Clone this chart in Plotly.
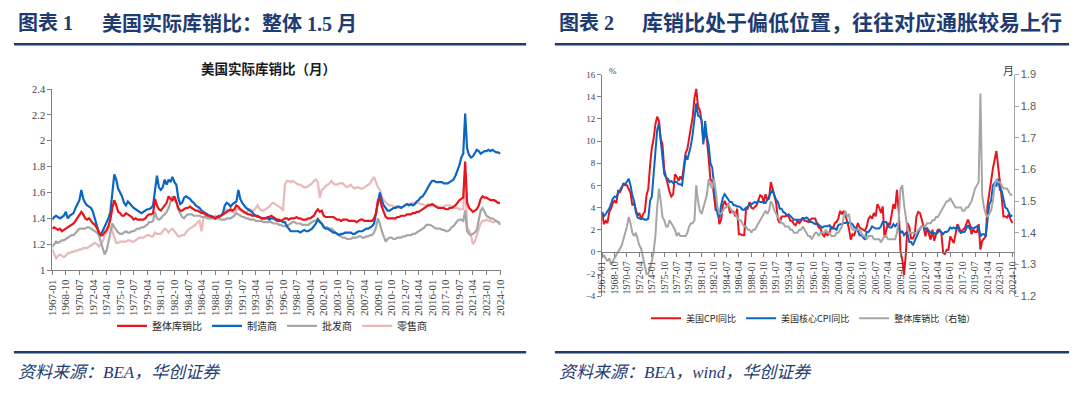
import plotly.graph_objects as go
import pandas as pd

# ---------------- data (quarterly readings: Jan/Apr/Jul/Oct, 1967-01 .. 2024-10) -------------
months = pd.date_range("1967-01-01", "2024-10-01", freq="QS-JAN")

total_ratio = [
    1.32, 1.33, 1.32, 1.31,  # 1967
    1.32, 1.30, 1.31, 1.32,  # 1968
    1.33, 1.34, 1.35, 1.36,  # 1969
    1.38, 1.40, 1.42, 1.45,  # 1970
    1.43, 1.40, 1.39, 1.40,  # 1971
    1.38, 1.36, 1.35, 1.32,  # 1972
    1.29, 1.27, 1.27, 1.29,  # 1973
    1.31, 1.34, 1.39, 1.48,  # 1974
    1.54, 1.50, 1.45, 1.44,  # 1975
    1.42, 1.42, 1.44, 1.43,  # 1976
    1.42, 1.41, 1.39, 1.40,  # 1977
    1.39, 1.39, 1.39, 1.39,  # 1978
    1.40, 1.42, 1.43, 1.43,  # 1979
    1.44, 1.55, 1.50, 1.47,  # 1980
    1.46, 1.48, 1.50, 1.52,  # 1981
    1.57, 1.55, 1.54, 1.57,  # 1982
    1.53, 1.48, 1.46, 1.46,  # 1983
    1.47, 1.48, 1.48, 1.49,  # 1984
    1.48, 1.47, 1.46, 1.46,  # 1985
    1.45, 1.44, 1.44, 1.43,  # 1986
    1.42, 1.42, 1.41, 1.41,  # 1987
    1.40, 1.41, 1.41, 1.42,  # 1988
    1.43, 1.44, 1.45, 1.46,  # 1989
    1.47, 1.46, 1.47, 1.50,  # 1990
    1.49, 1.47, 1.46, 1.45,  # 1991
    1.44, 1.43, 1.43, 1.42,  # 1992
    1.42, 1.42, 1.41, 1.41,  # 1993
    1.40, 1.40, 1.40, 1.41,  # 1994
    1.41, 1.42, 1.41, 1.40,  # 1995
    1.39, 1.39, 1.38, 1.39,  # 1996
    1.40, 1.40, 1.39, 1.40,  # 1997
    1.40, 1.40, 1.41, 1.40,  # 1998
    1.40, 1.39, 1.39, 1.39,  # 1999
    1.40, 1.40, 1.41, 1.42,  # 2000
    1.45, 1.47, 1.45, 1.46,  # 2001
    1.42, 1.41, 1.41, 1.41,  # 2002
    1.41, 1.41, 1.40, 1.39,  # 2003
    1.39, 1.38, 1.39, 1.39,  # 2004
    1.39, 1.38, 1.38, 1.38,  # 2005
    1.38, 1.37, 1.38, 1.39,  # 2006
    1.39, 1.38, 1.38, 1.38,  # 2007
    1.38, 1.38, 1.40, 1.44,  # 2008
    1.54, 1.55, 1.49, 1.45,  # 2009
    1.41, 1.40, 1.40, 1.40,  # 2010
    1.40, 1.40, 1.41, 1.41,  # 2011
    1.42, 1.42, 1.42, 1.43,  # 2012
    1.43, 1.43, 1.44, 1.44,  # 2013
    1.45, 1.45, 1.46, 1.47,  # 2014
    1.48, 1.49, 1.50, 1.50,  # 2015
    1.51, 1.50, 1.49, 1.48,  # 2016
    1.48, 1.48, 1.48, 1.47,  # 2017
    1.47, 1.48, 1.48, 1.49,  # 2018
    1.50, 1.52, 1.54, 1.55,  # 2019
    1.56, 1.84, 1.52, 1.48,  # 2020
    1.46, 1.45, 1.46, 1.47,  # 2021
    1.50, 1.55, 1.57, 1.56,  # 2022
    1.56, 1.55, 1.54, 1.54,  # 2023
    1.54, 1.53, 1.52, 1.52,  # 2024
]

manufacturing = [
    1.39, 1.41, 1.42, 1.41,  # 1967
    1.40, 1.41, 1.42, 1.45,  # 1968
    1.40, 1.42, 1.43, 1.44,  # 1969
    1.48, 1.51, 1.54, 1.62,  # 1970
    1.55, 1.52, 1.50, 1.49,  # 1971
    1.48, 1.45, 1.40, 1.35,  # 1972
    1.29, 1.27, 1.30, 1.34,  # 1973
    1.37, 1.40, 1.45, 1.58,  # 1974
    1.74, 1.70, 1.63, 1.60,  # 1975
    1.57, 1.52, 1.50, 1.53,  # 1976
    1.51, 1.50, 1.48, 1.47,  # 1977
    1.46, 1.45, 1.44, 1.45,  # 1978
    1.46, 1.47, 1.47, 1.48,  # 1979
    1.50, 1.62, 1.73, 1.64,  # 1980
    1.62, 1.64, 1.70, 1.66,  # 1981
    1.70, 1.68, 1.72, 1.68,  # 1982
    1.66, 1.56, 1.51, 1.52,  # 1983
    1.56, 1.57, 1.56, 1.55,  # 1984
    1.53, 1.52, 1.50, 1.49,  # 1985
    1.48, 1.46, 1.45, 1.44,  # 1986
    1.43, 1.42, 1.42, 1.41,  # 1987
    1.40, 1.41, 1.42, 1.42,  # 1988
    1.44, 1.50, 1.52, 1.51,  # 1989
    1.49, 1.51, 1.52, 1.53,  # 1990
    1.62, 1.55, 1.52, 1.50,  # 1991
    1.48, 1.47, 1.46, 1.45,  # 1992
    1.43, 1.42, 1.42, 1.41,  # 1993
    1.40, 1.40, 1.40, 1.40,  # 1994
    1.39, 1.40, 1.40, 1.39,  # 1995
    1.38, 1.38, 1.38, 1.37,  # 1996
    1.37, 1.34, 1.32, 1.30,  # 1997
    1.30, 1.30, 1.30, 1.30,  # 1998
    1.29, 1.30, 1.31, 1.30,  # 1999
    1.30, 1.31, 1.32, 1.34,  # 2000
    1.36, 1.39, 1.37, 1.36,  # 2001
    1.33, 1.32, 1.32, 1.31,  # 2002
    1.30, 1.29, 1.29, 1.28,  # 2003
    1.27, 1.28, 1.28, 1.29,  # 2004
    1.29, 1.29, 1.29, 1.28,  # 2005
    1.28, 1.29, 1.30, 1.30,  # 2006
    1.30, 1.31, 1.32, 1.32,  # 2007
    1.33, 1.34, 1.36, 1.44,  # 2008
    1.55, 1.60, 1.54, 1.50,  # 2009
    1.48, 1.46, 1.46, 1.47,  # 2010
    1.48, 1.48, 1.49, 1.49,  # 2011
    1.48, 1.49, 1.50, 1.51,  # 2012
    1.50, 1.51, 1.50, 1.51,  # 2013
    1.53, 1.54, 1.56, 1.57,  # 2014
    1.59, 1.62, 1.65, 1.67,  # 2015
    1.69, 1.69, 1.68, 1.68,  # 2016
    1.68, 1.68, 1.67, 1.67,  # 2017
    1.67, 1.68, 1.69, 1.70,  # 2018
    1.73, 1.77, 1.81, 1.87,  # 2019
    1.90, 2.21, 1.94, 1.89,  # 2020
    1.87, 1.88, 1.91, 1.93,  # 2021
    1.92, 1.90, 1.91, 1.92,  # 2022
    1.92, 1.93, 1.92, 1.93,  # 2023
    1.92, 1.91, 1.91, 1.90,  # 2024
]

wholesale = [
    1.18, 1.20, 1.22, 1.21,  # 1967
    1.22, 1.23, 1.23, 1.24,  # 1968
    1.25, 1.26, 1.27, 1.27,  # 1969
    1.29, 1.30, 1.32, 1.32,  # 1970
    1.32, 1.32, 1.33, 1.33,  # 1971
    1.32, 1.31, 1.30, 1.29,  # 1972
    1.27, 1.22, 1.17, 1.12,  # 1973
    1.15, 1.22, 1.30, 1.36,  # 1974
    1.33, 1.31, 1.29, 1.28,  # 1975
    1.28, 1.29, 1.30, 1.29,  # 1976
    1.29, 1.30, 1.30, 1.31,  # 1977
    1.32, 1.32, 1.33, 1.33,  # 1978
    1.34, 1.35, 1.37, 1.37,  # 1979
    1.38, 1.45, 1.40, 1.39,  # 1980
    1.40, 1.42, 1.43, 1.45,  # 1981
    1.48, 1.52, 1.57, 1.54,  # 1982
    1.52, 1.47, 1.44, 1.41,  # 1983
    1.40, 1.42, 1.43, 1.43,  # 1984
    1.43, 1.42, 1.42, 1.42,  # 1985
    1.42, 1.41, 1.41, 1.41,  # 1986
    1.40, 1.40, 1.40, 1.40,  # 1987
    1.40, 1.40, 1.40, 1.39,  # 1988
    1.39, 1.39, 1.40, 1.40,  # 1989
    1.40, 1.41, 1.42, 1.44,  # 1990
    1.43, 1.42, 1.41, 1.41,  # 1991
    1.40, 1.40, 1.39, 1.39,  # 1992
    1.39, 1.38, 1.38, 1.38,  # 1993
    1.38, 1.37, 1.37, 1.37,  # 1994
    1.37, 1.37, 1.36, 1.36,  # 1995
    1.36, 1.35, 1.35, 1.34,  # 1996
    1.34, 1.34, 1.35, 1.36,  # 1997
    1.37, 1.37, 1.36, 1.36,  # 1998
    1.36, 1.35, 1.35, 1.35,  # 1999
    1.35, 1.36, 1.37, 1.38,  # 2000
    1.38, 1.40, 1.38, 1.36,  # 2001
    1.34, 1.33, 1.33, 1.32,  # 2002
    1.32, 1.31, 1.29, 1.28,  # 2003
    1.27, 1.26, 1.25, 1.25,  # 2004
    1.24, 1.24, 1.24, 1.25,  # 2005
    1.25, 1.25, 1.26, 1.26,  # 2006
    1.25, 1.25, 1.26, 1.26,  # 2007
    1.27, 1.27, 1.29, 1.33,  # 2008
    1.40, 1.36, 1.30, 1.26,  # 2009
    1.22, 1.24, 1.25, 1.25,  # 2010
    1.24, 1.24, 1.25, 1.25,  # 2011
    1.25, 1.26, 1.26, 1.27,  # 2012
    1.27, 1.27, 1.28, 1.28,  # 2013
    1.29, 1.30, 1.31, 1.32,  # 2014
    1.33, 1.35, 1.35, 1.35,  # 2015
    1.34, 1.33, 1.32, 1.32,  # 2016
    1.32, 1.31, 1.31, 1.30,  # 2017
    1.30, 1.31, 1.33, 1.34,  # 2018
    1.36, 1.38, 1.39, 1.39,  # 2019
    1.38, 1.46, 1.30, 1.28,  # 2020
    1.27, 1.28, 1.29, 1.31,  # 2021
    1.38, 1.46, 1.48, 1.45,  # 2022
    1.42, 1.41, 1.40, 1.40,  # 2023
    1.39, 1.38, 1.37, 1.35,  # 2024
]

retail = [
    1.16, 1.12, 1.09, 1.11,  # 1967
    1.12, 1.11, 1.10, 1.11,  # 1968
    1.13, 1.13, 1.14, 1.14,  # 1969
    1.15, 1.15, 1.16, 1.16,  # 1970
    1.17, 1.17, 1.17, 1.18,  # 1971
    1.19, 1.20, 1.21, 1.20,  # 1972
    1.18, 1.20, 1.22, 1.26,  # 1973
    1.29, 1.32, 1.34, 1.30,  # 1974
    1.25, 1.21, 1.21, 1.22,  # 1975
    1.22, 1.22, 1.22, 1.23,  # 1976
    1.23, 1.22, 1.22, 1.23,  # 1977
    1.24, 1.25, 1.25, 1.25,  # 1978
    1.26, 1.27, 1.27, 1.26,  # 1979
    1.26, 1.29, 1.28, 1.28,  # 1980
    1.28, 1.30, 1.32, 1.31,  # 1981
    1.29, 1.31, 1.32, 1.30,  # 1982
    1.28, 1.26, 1.26, 1.27,  # 1983
    1.27, 1.29, 1.31, 1.32,  # 1984
    1.33, 1.34, 1.35, 1.37,  # 1985
    1.38, 1.30, 1.40, 1.42,  # 1986
    1.43, 1.41, 1.40, 1.41,  # 1987
    1.42, 1.41, 1.41, 1.42,  # 1988
    1.43, 1.45, 1.47, 1.46,  # 1989
    1.46, 1.45, 1.44, 1.46,  # 1990
    1.48, 1.46, 1.45, 1.44,  # 1991
    1.44, 1.46, 1.47, 1.46,  # 1992
    1.46, 1.48, 1.50, 1.47,  # 1993
    1.46, 1.46, 1.47, 1.48,  # 1994
    1.49, 1.51, 1.52, 1.51,  # 1995
    1.50, 1.49, 1.48, 1.46,  # 1996
    1.66, 1.69, 1.69, 1.68,  # 1997
    1.69, 1.68, 1.67, 1.66,  # 1998
    1.66, 1.65, 1.64, 1.64,  # 1999
    1.65, 1.66, 1.67, 1.69,  # 2000
    1.70, 1.68, 1.56, 1.62,  # 2001
    1.63, 1.65, 1.66, 1.67,  # 2002
    1.69, 1.67, 1.66, 1.66,  # 2003
    1.67, 1.67, 1.67, 1.65,  # 2004
    1.64, 1.65, 1.66, 1.64,  # 2005
    1.63, 1.64, 1.64, 1.63,  # 2006
    1.63, 1.64, 1.65, 1.66,  # 2007
    1.67, 1.70, 1.72, 1.68,  # 2008
    1.64, 1.62, 1.57, 1.54,  # 2009
    1.52, 1.51, 1.50, 1.50,  # 2010
    1.49, 1.49, 1.48, 1.48,  # 2011
    1.48, 1.49, 1.50, 1.51,  # 2012
    1.51, 1.51, 1.52, 1.52,  # 2013
    1.52, 1.52, 1.51, 1.51,  # 2014
    1.50, 1.50, 1.51, 1.51,  # 2015
    1.50, 1.50, 1.49, 1.49,  # 2016
    1.49, 1.49, 1.49, 1.50,  # 2017
    1.50, 1.50, 1.49, 1.48,  # 2018
    1.48, 1.48, 1.47, 1.47,  # 2019
    1.47, 1.72, 1.33, 1.31,  # 2020
    1.27, 1.20, 1.22, 1.27,  # 2021
    1.32, 1.36, 1.38, 1.38,  # 2022
    1.39, 1.38, 1.38, 1.37,  # 2023
    1.37, 1.38, 1.37, 1.37,  # 2024
]

cpi_yoy = [
    3.5, 2.5, 2.8, 2.6,     # 1967
    3.6, 3.9, 4.4, 4.6,     # 1968
    4.4, 5.5, 5.4, 5.7,     # 1969
    6.2, 6.0, 6.0, 5.6,     # 1970
    5.3, 4.2, 4.4, 3.8,     # 1971
    3.3, 3.5, 2.9, 3.4,     # 1972
    3.6, 5.1, 5.7, 7.8,     # 1973
    9.4, 10.2, 11.5, 12.2,  # 1974
    11.8, 10.2, 9.7, 7.4,   # 1975
    6.7, 6.1, 5.4, 5.0,     # 1976
    5.2, 7.0, 6.8, 6.4,     # 1977
    6.8, 6.5, 7.7, 8.9,     # 1978
    9.3, 10.4, 11.3, 12.2,  # 1979
    13.9, 14.7, 13.1, 12.8, # 1980
    11.8, 10.0, 10.8, 10.1, # 1981
    8.4, 6.5, 6.4, 5.1,     # 1982
    3.7, 3.9, 2.5, 2.9,     # 1983
    4.2, 4.6, 4.2, 4.3,     # 1984
    3.5, 3.7, 3.6, 3.2,     # 1985
    3.9, 1.6, 1.6, 1.5,     # 1986
    1.5, 3.8, 3.9, 4.5,     # 1987
    4.0, 3.9, 4.1, 4.2,     # 1988
    4.7, 5.1, 5.0, 4.5,     # 1989
    5.2, 4.7, 4.8, 6.3,     # 1990
    5.7, 4.9, 4.4, 2.9,     # 1991
    2.6, 3.2, 3.2, 3.2,     # 1992
    3.3, 3.2, 2.8, 2.8,     # 1993
    2.5, 2.4, 2.8, 2.6,     # 1994
    2.8, 3.1, 2.8, 2.8,     # 1995
    2.7, 2.9, 3.0, 3.0,     # 1996
    3.0, 2.5, 2.2, 2.1,     # 1997
    1.6, 1.4, 1.7, 1.5,     # 1998
    1.7, 2.3, 2.1, 2.6,     # 1999
    2.7, 3.0, 3.7, 3.4,     # 2000
    3.7, 3.3, 2.7, 2.1,     # 2001
    1.1, 1.6, 1.5, 2.0,     # 2002
    2.6, 2.2, 2.1, 2.0,     # 2003
    1.9, 2.3, 3.0, 3.2,     # 2004
    3.0, 3.5, 3.2, 4.3,     # 2005
    4.0, 3.5, 4.1, 1.3,     # 2006
    2.1, 2.6, 2.4, 3.5,     # 2007
    4.3, 3.9, 5.6, 3.7,     # 2008
    0.0, -0.7, -2.1, -0.2,  # 2009
    2.6, 2.2, 1.2, 1.2,     # 2010
    1.6, 3.2, 3.6, 3.5,     # 2011
    2.9, 2.3, 1.4, 2.2,     # 2012
    1.6, 1.1, 2.0, 1.0,     # 2013
    1.6, 2.0, 2.0, 1.7,     # 2014
    -0.1, -0.2, 0.2, 0.2,   # 2015
    1.4, 1.1, 0.8, 1.6,     # 2016
    2.5, 2.2, 1.7, 2.0,     # 2017
    2.1, 2.5, 2.9, 2.5,     # 2018
    1.6, 2.0, 1.8, 1.8,     # 2019
    2.5, 0.2, 1.0, 1.2,     # 2020
    1.4, 4.2, 5.4, 6.2,     # 2021
    7.5, 8.3, 9.1, 7.7,     # 2022
    6.4, 4.9, 3.2, 3.2,     # 2023
    3.1, 3.4, 2.9, 2.6,     # 2024
]

core_cpi_yoy = [
    3.6, 3.2, 3.4, 3.6,     # 1967
    3.9, 4.3, 4.8, 5.0,     # 1968
    4.9, 5.3, 5.6, 5.9,     # 1969
    6.1, 6.1, 6.3, 6.6,     # 1970
    6.0, 5.1, 4.6, 3.6,     # 1971
    3.1, 3.0, 3.0, 3.0,     # 1972
    2.9, 2.9, 3.0, 4.6,     # 1973
    5.0, 7.3, 9.5, 11.0,    # 1974
    11.6, 10.1, 8.5, 7.0,   # 1975
    6.7, 6.6, 6.3, 6.4,     # 1976
    6.2, 6.3, 6.3, 6.1,     # 1977
    6.1, 6.0, 7.3, 8.7,     # 1978
    8.3, 8.9, 9.6, 10.6,    # 1979
    11.8, 13.4, 12.3, 12.2, # 1980
    11.9, 9.7, 11.8, 10.4,  # 1981
    9.6, 8.0, 7.6, 5.9,     # 1982
    4.7, 3.4, 3.1, 4.2,     # 1983
    4.9, 5.2, 5.0, 4.8,     # 1984
    4.5, 4.5, 4.2, 4.2,     # 1985
    4.1, 4.1, 4.0, 3.8,     # 1986
    3.8, 4.0, 4.0, 4.3,     # 1987
    4.3, 4.4, 4.5, 4.4,     # 1988
    4.6, 4.5, 4.5, 4.4,     # 1989
    4.4, 4.7, 5.0, 5.3,     # 1990
    5.6, 5.1, 4.7, 4.5,     # 1991
    3.9, 3.9, 3.6, 3.5,     # 1992
    3.3, 3.4, 3.2, 3.1,     # 1993
    2.9, 2.9, 2.9, 2.9,     # 1994
    2.9, 3.0, 3.0, 3.1,     # 1995
    3.0, 2.7, 2.7, 2.6,     # 1996
    2.5, 2.6, 2.4, 2.3,     # 1997
    2.2, 2.3, 2.3, 2.3,     # 1998
    2.4, 2.1, 2.1, 2.1,     # 1999
    2.0, 2.4, 2.5, 2.5,     # 2000
    2.6, 2.6, 2.7, 2.6,     # 2001
    2.6, 2.5, 2.2, 2.2,     # 2002
    1.9, 1.5, 1.5, 1.3,     # 2003
    1.1, 1.8, 1.8, 2.0,     # 2004
    2.3, 2.2, 2.1, 2.1,     # 2005
    2.1, 2.3, 2.7, 2.7,     # 2006
    2.7, 2.3, 2.2, 2.2,     # 2007
    2.5, 2.3, 2.5, 2.2,     # 2008
    1.7, 1.9, 1.5, 1.7,     # 2009
    1.6, 0.9, 0.9, 0.6,     # 2010
    1.0, 1.3, 1.8, 2.1,     # 2011
    2.3, 2.3, 2.1, 2.0,     # 2012
    1.9, 1.7, 1.7, 1.7,     # 2013
    1.6, 1.8, 1.9, 1.8,     # 2014
    1.6, 1.8, 1.8, 1.9,     # 2015
    2.2, 2.1, 2.2, 2.1,     # 2016
    2.3, 1.9, 1.7, 1.8,     # 2017
    1.8, 2.1, 2.4, 2.1,     # 2018
    2.2, 2.1, 2.2, 2.3,     # 2019
    2.3, 1.4, 1.6, 1.6,     # 2020
    1.4, 3.0, 4.3, 4.6,     # 2021
    6.0, 6.2, 5.9, 6.6,     # 2022
    5.6, 5.5, 4.7, 4.0,     # 2023
    3.9, 3.6, 3.2, 3.3,     # 2024
]

tick_labels = [
    "1967-01", "1968-10", "1970-07", "1972-04", "1974-01", "1975-10", "1977-07",
    "1979-04", "1981-01", "1982-10", "1984-07", "1986-04", "1988-01", "1989-10",
    "1991-07", "1993-04", "1995-01", "1996-10", "1998-07", "2000-04", "2002-01",
    "2003-10", "2005-07", "2007-04", "2009-01", "2010-10", "2012-07", "2014-04",
    "2016-01", "2017-10", "2019-07", "2021-04", "2023-01", "2024-10",
]
tick_vals = [t + "-01" for t in tick_labels]

left_names = ["整体库销比", "制造商", "批发商", "零售商"]
right_names = ["美国CPI同比", "美国核心CPI同比", "整体库销比（右轴）"]

# ---------------- styling ----------------
W, H = 1080, 394
RED, BLUE, GRAY, PINK = "#E8141B", "#0A66C2", "#A6A6A6", "#E8B9B8"
NAVY = "#1E3C72"
CJK = "Noto Sans CJK SC"
SERIF = "Liberation Serif, Noto Sans CJK SC"


def fx(p):
    return p / W


def fy(p):
    return 1 - p / H


fig = go.Figure()

# left chart traces (drawn back-to-front)
left_series = [(retail, PINK, 3, left_names[3]), (wholesale, GRAY, 2, left_names[2]),
               (manufacturing, BLUE, 1, left_names[1]), (total_ratio, RED, 0, left_names[0])]
for vals, col, rank, name in left_series:
    fig.add_trace(go.Scatter(x=months, y=vals, mode="lines", name=name,
                             line=dict(color=col, width=2.2), legendrank=rank + 1,
                             xaxis="x", yaxis="y", legend="legend"))

# right chart traces
fig.add_trace(go.Scatter(x=months, y=cpi_yoy, mode="lines", name=right_names[0],
                         line=dict(color=RED, width=2.0), xaxis="x2", yaxis="y2",
                         legend="legend2"))
fig.add_trace(go.Scatter(x=months, y=core_cpi_yoy, mode="lines", name=right_names[1],
                         line=dict(color=BLUE, width=2.0), xaxis="x2", yaxis="y2",
                         legend="legend2"))
fig.add_trace(go.Scatter(x=months, y=total_ratio, mode="lines", name=right_names[2],
                         line=dict(color=GRAY, width=2.0), xaxis="x2", yaxis="y3",
                         legend="legend2"))

axis_common = dict(showgrid=False, zeroline=False, ticks="outside", ticklen=4,
                   tickcolor="#7F7F7F", linecolor="#7F7F7F", linewidth=1, showline=True)

fig.update_layout(
    width=W, height=H, autosize=False,
    margin=dict(l=0, r=0, t=0, b=0),
    paper_bgcolor="white", plot_bgcolor="rgba(0,0,0,0)",
    xaxis=dict(domain=[fx(46.7), fx(500)], anchor="y", type="date",
               range=["1967-01-01", "2024-12-01"], tickvals=tick_vals, ticktext=tick_labels,
               tickangle=-90, tickfont=dict(family=SERIF, size=11, color="#404040"),
               **axis_common),
    yaxis=dict(domain=[fy(272.3), fy(85.7)], anchor="x", range=[1, 2.4], dtick=0.2,
               tick0=1, tickfont=dict(family=SERIF, size=10.5, color="#404040"),
               **axis_common),
    xaxis2=dict(domain=[fx(601.7), fx(1017)], anchor="free", position=fy(254),
                type="date", range=["1967-01-01", "2024-12-01"], tickvals=tick_vals,
                ticktext=tick_labels, tickangle=-90,
                tickfont=dict(family=SERIF, size=10, color="#404040"), **axis_common),
    yaxis2=dict(domain=[fy(299.3), fy(70.7)], anchor="x2", range=[-4, 16], dtick=2,
                tick0=0, tickfont=dict(family=SERIF, size=9, color="#404040"),
                **axis_common),
    yaxis3=dict(overlaying="y2", anchor="x2", side="right", range=[1.2, 1.9], dtick=0.1,
                tick0=1.2, tickformat=".1f",
                tickfont=dict(family="Liberation Sans", size=11, color="#595959"),
                showgrid=False, zeroline=False, ticks="outside", ticklen=4,
                tickcolor="#A6A6A6", linecolor="#A6A6A6", linewidth=1, showline=True),
    legend=dict(orientation="h", x=fx(107), xanchor="left", y=fy(330), yanchor="middle",
                font=dict(family=CJK, size=10, color="#262626"), bgcolor="rgba(0,0,0,0)",
                itemwidth=30),
    legend2=dict(orientation="h", x=fx(646), xanchor="left", y=fy(322), yanchor="middle",
                 font=dict(family=CJK, size=9, color="#262626"), bgcolor="rgba(0,0,0,0)",
                 itemwidth=30),
    showlegend=True,
)

# header / footer lines
for x0, x1 in [(8, 525), (554, 1073)]:
    fig.add_shape(type="line", xref="paper", yref="paper", x0=fx(x0), x1=fx(x1),
                  y0=fy(39.5), y1=fy(39.5), line=dict(color=NAVY, width=2.5))
    fig.add_shape(type="line", xref="paper", yref="paper", x0=fx(x0), x1=fx(x1),
                  y0=fy(357), y1=fy(357), line=dict(color=NAVY, width=2.5))

texts = [
    (10, 18, "<b>图表 1</b>", 20, NAVY, SERIF, "left"),
    (95, 18, "<b>美国实际库销比：整体 1.5 月</b>", 20, NAVY, SERIF, "left"),
    (556, 18, "<b>图表 2</b>", 20, NAVY, SERIF, "left"),
    (640, 18, "<b>库销比处于偏低位置，往往对应通胀较易上行</b>", 21, NAVY, SERIF, "left"),
    (265, 64, "<b>美国实际库销比（月）</b>", 13.5, "#1A1A1A", CJK, "center"),
    (10, 378, "<i>资料来源：BEA，华创证券</i>", 17, NAVY, SERIF, "left"),
    (556, 378, "<i>资料来源：BEA，wind，华创证券</i>", 17, NAVY, SERIF, "left"),
    (607, 67, "%", 9, "#404040", SERIF, "left"),
    (1004, 66, "月", 11, "#404040", CJK, "left"),
]
for x, y, t, s, c, fam, anc in texts:
    fig.add_annotation(xref="paper", yref="paper", x=fx(x), y=fy(y), text=t,
                       showarrow=False, xanchor=anc, yanchor="middle",
                       font=dict(size=s, color=c, family=fam))

# remove the browser's default 8px body margin so paper pixels match the window
fig.write_html("out.html", config={"displayModeBar": False},
               post_script="document.body.style.margin = '0';")
